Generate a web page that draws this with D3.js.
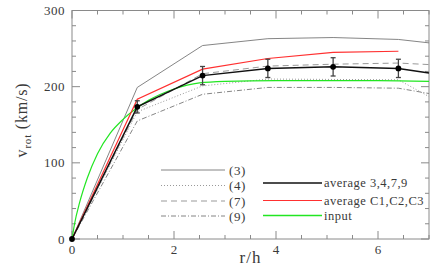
<!DOCTYPE html>
<html>
<head>
<meta charset="UTF-8">
<title>v_rot vs r/h</title>
<style>
  body { margin: 0; background: #fff; }
  text { font-family: "Liberation Serif", serif; fill: #3a3a3a; }
</style>
</head>
<body>
<svg width="436" height="280"></svg>
<script src="https://d3js.org/d3.v7.min.js"></script>
<script>
// model radii (r/h)
const rModel = [0, 1.28, 2.56, 3.84, 5.12, 6.4, 7.0];
const v3 = [0, 199, 254, 263, 264.5, 262, 257.5];
const v4 = [0, 167, 201, 210, 209.5, 209, 187];
const v7 = [0, 170, 217, 227, 229.5, 231, 229];
const v9 = [0, 155, 190, 199, 199, 198, 191];

// averages
const rAvg = [0, 1.28, 2.56, 3.84, 5.12, 6.4, 7.0];
const vAvg = [0, 173.5, 214.5, 224, 226, 224, 218];
const errAvg = [0, 8, 12, 12, 12, 12, 0];
const rC = [0, 1.28, 2.56, 3.84, 5.12, 6.4];
const vC = [0, 183.5, 223, 237, 245, 246.5];

// input curve
const rIn = [0, 0.05, 0.15, 0.3, 0.5, 0.75, 1.0, 1.25, 1.5, 2.0, 2.5, 3.0, 4.0, 5.0, 6.0, 7.0];
const vIn = [0, 20, 48, 80, 112, 139, 157, 171, 182, 197, 205, 207, 208, 208, 208, 207];

const xTicks = [0, 2, 4, 6];
const yTicks = [0, 100, 200, 300];

const svg = d3.select("svg");
const mLeft = 72, mRight = 429, mTop = 10.5, mBottom = 239;

const x = d3.scaleLinear().domain([0, 7]).range([mLeft, mRight]);
const y = d3.scaleLinear().domain([0, 300]).range([mBottom, mTop]);

const axisCol = "#8a8a8a";
const green = "#22e622";

// frame
svg.append("rect")
  .attr("x", mLeft).attr("y", mTop)
  .attr("width", mRight - mLeft).attr("height", mBottom - mTop)
  .attr("fill", "none").attr("stroke", axisCol).attr("stroke-width", 1);

// ticks (inward, all four sides)
const ticks = svg.append("g").attr("stroke", axisCol).attr("stroke-width", 1);
d3.range(0, 7.01, 0.5).forEach(t => {
  const len = (t % 2 === 0) ? 8 : 4;
  ticks.append("line").attr("x1", x(t)).attr("x2", x(t)).attr("y1", mBottom).attr("y2", mBottom - len);
  ticks.append("line").attr("x1", x(t)).attr("x2", x(t)).attr("y1", mTop).attr("y2", mTop + len);
});
d3.range(0, 300.1, 20).forEach(t => {
  const len = (t % 100 === 0) ? 8 : 4;
  ticks.append("line").attr("y1", y(t)).attr("y2", y(t)).attr("x1", mLeft).attr("x2", mLeft + len);
  ticks.append("line").attr("y1", y(t)).attr("y2", y(t)).attr("x1", mRight).attr("x2", mRight - len);
});

// tick labels
svg.append("g").selectAll("text").data(xTicks).join("text")
  .attr("x", d => x(d)).attr("y", mBottom + 15)
  .attr("text-anchor", "middle").attr("font-size", 13)
  .text(d => d);
svg.append("g").selectAll("text").data(yTicks).join("text")
  .attr("x", mLeft - 7).attr("y", d => y(d) + 4.5)
  .attr("text-anchor", "end").attr("font-size", 13)
  .attr("letter-spacing", 0.5)
  .text(d => d);

// axis titles
svg.append("text")
  .attr("x", (mLeft + mRight) / 2).attr("y", mBottom + 24)
  .attr("text-anchor", "middle").attr("font-size", 17)
  .attr("letter-spacing", 1)
  .text("r/h");
const yl = svg.append("text")
  .attr("transform", "translate(27,120) rotate(-90)")
  .attr("text-anchor", "middle").attr("font-size", 16)
  .attr("letter-spacing", 0.8);
yl.append("tspan").text("v");
yl.append("tspan").attr("dy", 4).attr("font-size", 11).text("rot");
yl.append("tspan").attr("dy", -4).text(" (km/s)");

const line = d3.line().x(d => x(d[0])).y(d => y(d[1]));
const zip = (a, b) => a.map((v, i) => [v, b[i]]);

const plot = svg.append("g").attr("fill", "none");

// model curves
const models = [
  { label: "(3)", v: v3, col: "#777", dash: null, w: 0.9 },
  { label: "(4)", v: v4, col: "#999", dash: "1,2", w: 1 },
  { label: "(7)", v: v7, col: "#999", dash: "6,4", w: 1 },
  { label: "(9)", v: v9, col: "#777", dash: "5,2,1,2", w: 0.9 }
];
models.forEach(m => {
  plot.append("path").attr("d", line(zip(rModel, m.v)))
    .attr("stroke", m.col).attr("stroke-width", m.w)
    .attr("stroke-dasharray", m.dash);
});

// input
plot.append("path")
  .attr("d", line.curve(d3.curveMonotoneX)(zip(rIn, vIn)))
  .attr("stroke", green).attr("stroke-width", 1.2);
line.curve(d3.curveLinear);

// average C1,C2,C3
plot.append("path").attr("d", line(zip(rC, vC)))
  .attr("stroke", "#ff3030").attr("stroke-width", 1.2);

// average 3,4,7,9
plot.append("path").attr("d", line(zip(rAvg, vAvg)))
  .attr("stroke", "#111").attr("stroke-width", 1.5);

// error bars
const avgPts = rAvg.map((r, i) => ({ r, v: vAvg[i], e: errAvg[i] })).filter(d => d.r < 7);
const eb = svg.append("g").attr("stroke", "#444").attr("stroke-width", 1.3);
avgPts.filter(d => d.e > 0).forEach(d => {
  eb.append("line").attr("x1", x(d.r)).attr("x2", x(d.r)).attr("y1", y(d.v - d.e)).attr("y2", y(d.v + d.e));
  [d.v - d.e, d.v + d.e].forEach(vv => {
    eb.append("line").attr("x1", x(d.r) - 2.5).attr("x2", x(d.r) + 2.5).attr("y1", y(vv)).attr("y2", y(vv));
  });
});
svg.append("g").selectAll("circle").data(avgPts).join("circle")
  .attr("cx", d => x(d.r)).attr("cy", d => y(d.v))
  .attr("r", 2.9).attr("fill", "#000");

// legend
const lg = svg.append("g");
const rowsL = [170, 185.5, 201, 216];
models.forEach((m, i) => {
  lg.append("line").attr("x1", 161).attr("x2", 225).attr("y1", rowsL[i]).attr("y2", rowsL[i])
    .attr("stroke", m.col).attr("stroke-width", m.w).attr("stroke-dasharray", m.dash);
  lg.append("text").attr("x", 229).attr("y", rowsL[i] + 4.5).attr("font-size", 13)
    .attr("letter-spacing", 0.6).text(m.label);
});
const rightItems = [
  { label: "average 3,4,7,9", col: "#111", w: 1.5, yy: 183 },
  { label: "average C1,C2,C3", col: "#ff3030", w: 1.2, yy: 200.5 },
  { label: "input", col: green, w: 1.3, yy: 215.5 }
];
rightItems.forEach(it => {
  lg.append("line").attr("x1", 263).attr("x2", 322).attr("y1", it.yy).attr("y2", it.yy)
    .attr("stroke", it.col).attr("stroke-width", it.w);
  lg.append("text").attr("x", 324).attr("y", it.yy + 4).attr("font-size", 12.5)
    .attr("letter-spacing", 0.5).text(it.label);
});
</script>
</body>
</html>
